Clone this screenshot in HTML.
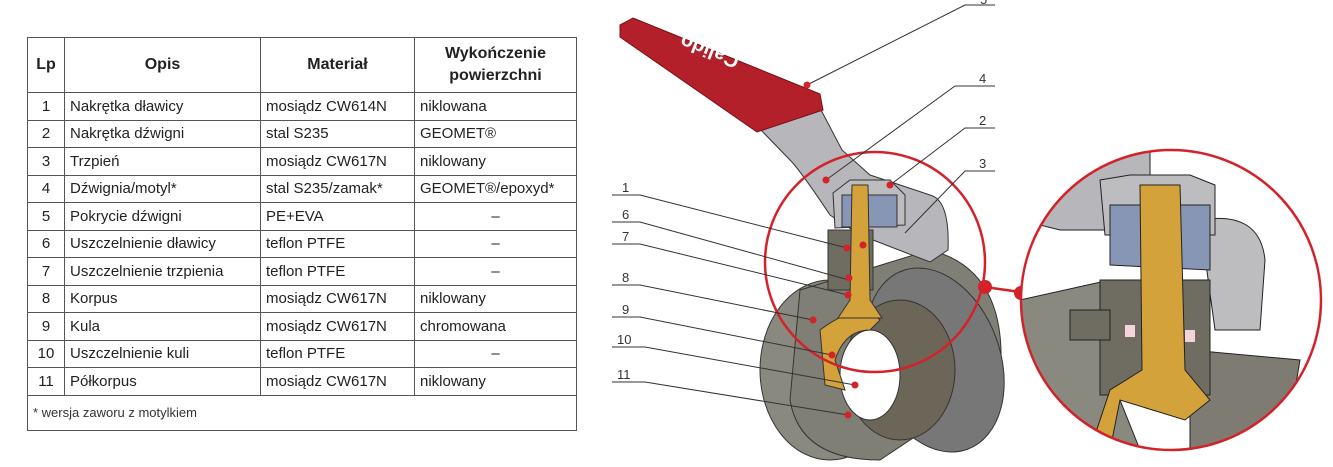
<!DOCTYPE html>
<html><head><meta charset="utf-8"><style>
body{margin:0;width:1333px;height:467px;background:#fff;overflow:hidden;font-family:"Liberation Sans",sans-serif;position:relative}
table{position:absolute;left:27px;top:37px;border-collapse:collapse;font-size:15px;color:#222}
td,th{border:1px solid #555;padding:0 5px;height:26.5px;white-space:nowrap}
th{font-weight:bold;font-size:16px;height:54px}
.c{text-align:center}
.foot{font-size:13px;height:34px;color:#333}
svg{position:absolute;left:0;top:0}
</style></head><body>
<table>
<tr><th style="width:26px">Lp</th><th style="width:185px">Opis</th><th style="width:143px">Materiał</th><th style="width:151px;line-height:22px">Wykończenie<br>powierzchni</th></tr>
<tr><td class="c">1</td><td>Nakrętka dławicy</td><td>mosiądz CW614N</td><td>niklowana</td></tr>
<tr><td class="c">2</td><td>Nakrętka dźwigni</td><td>stal S235</td><td>GEOMET®</td></tr>
<tr><td class="c">3</td><td>Trzpień</td><td>mosiądz CW617N</td><td>niklowany</td></tr>
<tr><td class="c">4</td><td>Dźwignia/motyl*</td><td>stal S235/zamak*</td><td>GEOMET®/epoxyd*</td></tr>
<tr><td class="c">5</td><td>Pokrycie dźwigni</td><td>PE+EVA</td><td class="c">–</td></tr>
<tr><td class="c">6</td><td>Uszczelnienie dławicy</td><td>teflon PTFE</td><td class="c">–</td></tr>
<tr><td class="c">7</td><td>Uszczelnienie trzpienia</td><td>teflon PTFE</td><td class="c">–</td></tr>
<tr><td class="c">8</td><td>Korpus</td><td>mosiądz CW617N</td><td>niklowany</td></tr>
<tr><td class="c">9</td><td>Kula</td><td>mosiądz CW617N</td><td>chromowana</td></tr>
<tr><td class="c">10</td><td>Uszczelnienie kuli</td><td>teflon PTFE</td><td class="c">–</td></tr>
<tr><td class="c">11</td><td>Półkorpus</td><td>mosiądz CW617N</td><td>niklowany</td></tr>
<tr><td colspan="4" class="foot">* wersja zaworu z motylkiem</td></tr>
</table>
<svg width="1333" height="467" viewBox="0 0 1333 467" font-family="Liberation Sans,sans-serif" font-size="13" fill="#333">
<!-- body -->
<ellipse cx="830" cy="370" rx="70" ry="90" fill="#8a8980" stroke="#333"/>
<path d="M800 290 L930 250 Q1010 270 1000 380 L880 460 Q800 460 790 400Z" fill="#807f76" stroke="#333"/>
<ellipse cx="935" cy="360" rx="65" ry="95" fill="#777" stroke="#333" transform="rotate(-20 935 360)"/>
<ellipse cx="900" cy="370" rx="55" ry="70" fill="#6b6657" stroke="#333"/>
<ellipse cx="870" cy="375" rx="30" ry="45" fill="#fff" stroke="#333"/>
<path d="M820 330 Q860 300 880 320 L870 330 Q845 330 835 360 L845 390 L825 385Z" fill="#d4a23a" stroke="#333"/>
<path d="M757 126 L820 108 L842 150 L870 175 L930 195 Q950 200 948 250 L930 262 L860 235 L830 215 Q800 170 790 160Z" fill="#b7b7bb" stroke="#333"/>
<path d="M833 193 L850 180 L890 180 L905 195 L905 225 L835 228Z" fill="#bdbdc0" stroke="#333"/>
<rect x="842" y="195" width="55" height="32" fill="#8896b5" stroke="#333"/>
<rect x="828" y="230" width="45" height="60" fill="#6f6d62" stroke="#333"/>
<path d="M852 185 L868 185 L870 300 L882 318 L838 318 L850 300Z" fill="#d4a23a" stroke="#333"/>
<!-- red handle -->
<path d="M620 25 L633 18 L820 94 L823 110 L757 132 L620 37Z" fill="#b3202a" stroke="#7a1018"/>
<text x="0" y="0" fill="#fff" font-size="20" font-weight="bold" text-anchor="middle" transform="translate(712 45) rotate(201)">Calido</text>
<!-- red circles -->
<circle cx="875" cy="262" r="110" fill="none" stroke="#d3222a" stroke-width="2.5"/>
<line x1="985" y1="287" x2="1020" y2="292" stroke="#d3222a" stroke-width="2.5"/>
<circle cx="985" cy="287" r="7" fill="#d3222a"/><circle cx="1021" cy="293" r="7" fill="#d3222a"/>
<defs><clipPath id="cz"><circle cx="1171" cy="300" r="150"/></clipPath></defs>
<g clip-path="url(#cz)">
<rect x="1020" y="150" width="305" height="300" fill="#fff"/>
<path d="M1020 170 L1150 150 L1150 230 L1060 230 L1020 220Z" fill="#b7b7bb" stroke="#222"/>
<path d="M1200 220 Q1260 210 1265 260 L1260 330 L1215 330Z" fill="#bdbdc0" stroke="#222"/>
<path d="M1020 300 L1110 280 L1120 400 L1140 450 L1020 450Z" fill="#8a8980" stroke="#222"/>
<path d="M1190 350 L1300 360 L1290 420 L1220 450 L1190 450Z" fill="#7e7c72" stroke="#222"/>
<rect x="1100" y="280" width="110" height="115" fill="#6f6d62" stroke="#222"/>
<rect x="1070" y="310" width="40" height="30" fill="#6f6d62" stroke="#222"/>
<path d="M1100 180 L1130 175 L1190 175 L1215 185 L1215 235 L1105 235Z" fill="#bdbdc0" stroke="#222"/>
<path d="M1110 205 L1210 205 L1210 270 L1110 265Z" fill="#8896b5" stroke="#222"/>
<path d="M1140 185 L1180 185 L1185 370 L1210 400 L1185 420 L1120 400 L1110 450 L1090 450 L1110 390 L1142 370Z" fill="#d4a23a" stroke="#222"/>
<rect x="1125" y="325" width="10" height="12" fill="#f3d3dc"/><rect x="1185" y="330" width="10" height="12" fill="#f3d3dc"/>
</g>
<circle cx="1171" cy="300" r="150" fill="none" stroke="#d3222a" stroke-width="2.5"/>
<g stroke="#333" stroke-width="1" fill="none">
<path d="M995 5 L965 5 L807 85"/>
<path d="M995 86 L955 86 L826 180"/>
<path d="M995 128 L965 128 L890 185"/>
<path d="M995 171 L965 171 L905 233"/>
<path d="M612 195 L640 195 L847 248"/>
<path d="M612 222 L640 222 L849 280"/>
<path d="M612 244 L640 244 L848 295"/>
<path d="M612 285 L640 285 L813 320"/>
<path d="M612 317 L640 317 L832 355"/>
<path d="M612 347 L645 347 L855 385"/>
<path d="M612 382 L645 382 L848 415"/>
</g>
<g fill="#d3222a">
<circle cx="807" cy="85" r="3.5"/><circle cx="826" cy="180" r="3.5"/><circle cx="890" cy="185" r="3.5"/><circle cx="863" cy="245" r="3.5"/>
<circle cx="847" cy="248" r="3.5"/><circle cx="849" cy="278" r="3.5"/><circle cx="848" cy="295" r="3.5"/><circle cx="813" cy="320" r="3.5"/>
<circle cx="832" cy="355" r="3.5"/><circle cx="855" cy="385" r="3.5"/><circle cx="848" cy="415" r="3.5"/>
</g>
<text x="980" y="4">5</text><text x="979" y="83">4</text><text x="979" y="125">2</text><text x="979" y="168">3</text>
<text x="622" y="192">1</text><text x="622" y="219">6</text><text x="622" y="241">7</text><text x="622" y="282">8</text>
<text x="622" y="314">9</text><text x="617" y="344">10</text><text x="617" y="379">11</text>
</svg>
</body></html>
